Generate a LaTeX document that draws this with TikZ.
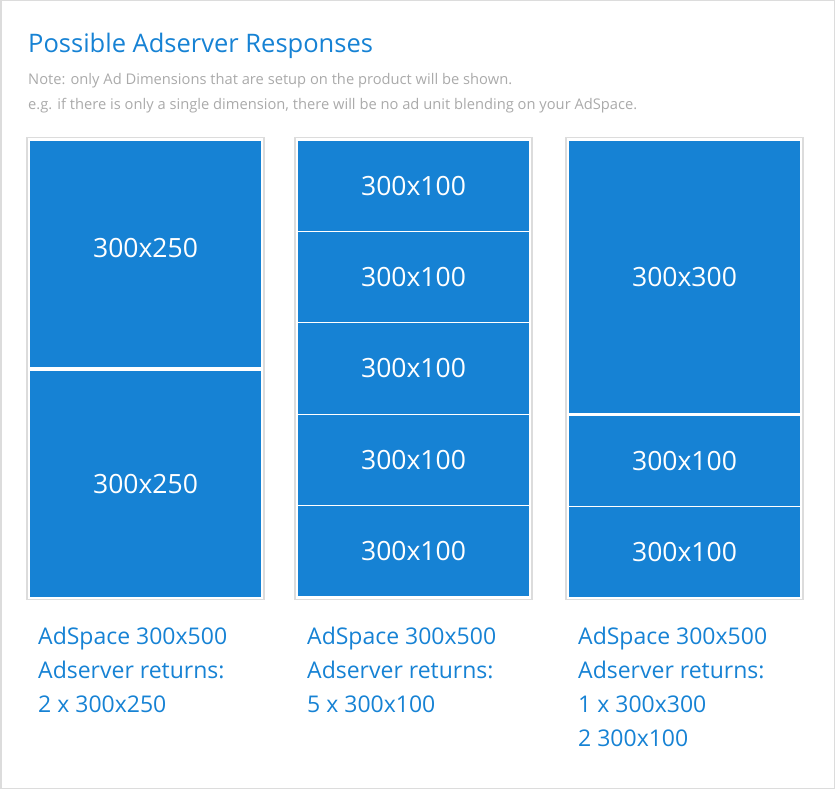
\documentclass[tikz,border=0pt]{standalone}
\usepackage{fontspec}
\setmainfont{Open Sans}
\usetikzlibrary{positioning}
\definecolor{adblue}{HTML}{1682D4}
\definecolor{slotgray}{HTML}{DCDCDC}
\definecolor{notegray}{HTML}{AAAAAA}

\begin{document}
\begin{tikzpicture}[x=1pt, y=-1pt,
  adbox/.style={fill=adblue, anchor=north west, inner sep=0pt, outer sep=0pt,
    minimum width=231pt, text=white, font=\fontsize{26.5}{30}\selectfont},
  slot/.style={draw=slotgray, line width=1.5pt},
  caption/.style={anchor=north west, inner sep=0pt, align=left, text=adblue,
    font=\fontsize{23}{34}\selectfont}]
  % Rahmen
  \draw[slotgray, line width=1.5pt] (0.75,0.75) rectangle (834.25,788.25);
  \useasboundingbox (0,0) rectangle (835,789);

  % Titel
  \node[anchor=base west, inner sep=0pt, text=adblue, font=\fontsize{25.5}{30}\selectfont]
    (title) at (28,53) {Possible Adserver Responses};
  \node[anchor=base west, inner sep=0pt, text=notegray, font=\fontsize{14.7}{18}\selectfont]
    (note1) at (28,85) {Note: only Ad Dimensions that are setup on the product will be shown.};
  \node[anchor=base west, inner sep=0pt, text=notegray, font=\fontsize{14.7}{18}\selectfont]
    (note2) at (28,110) {e.g. if there is only a single dimension, there will be no ad unit blending on your AdSpace.};

  % AdSpace-Rahmen
  \foreach \x in {30,298,569}
    \draw[slot] (\x-3.25,137.75) rectangle (\x+234,599.25);

  % 2 x 300x250
  \node[adbox, minimum height=226pt, text depth=12pt] (c1a) at (30,141) {300x250};
  \node[adbox, minimum height=226pt] (c1b) at (30,371) {300x250};

  % 5 x 300x100
  \foreach \i in {0,...,4}
    \node[adbox, minimum height=90.2pt] (c2\i) at (298,{141+91.2*\i}) {300x100};

  % 300x300 + 2 x 300x100
  \node[adbox, minimum height=272pt] (c3a) at (569,141) {300x300};
  \node[adbox, minimum height=90pt] (c3b) at (569,416) {300x100};
  \node[adbox, minimum height=90pt] (c3c) at (569,507) {300x100};

  % Beschriftung
  \node[caption] (cap1) at (38,627) {AdSpace 300x500\\Adserver returns:\\2 x 300x250};
  \node[caption] (cap2) at (307,627) {AdSpace 300x500\\Adserver returns:\\5 x 300x100};
  \node[caption] (cap3) at (578,627) {AdSpace 300x500\\Adserver returns:\\1 x 300x300\\2 300x100};
\end{tikzpicture}
\end{document}
